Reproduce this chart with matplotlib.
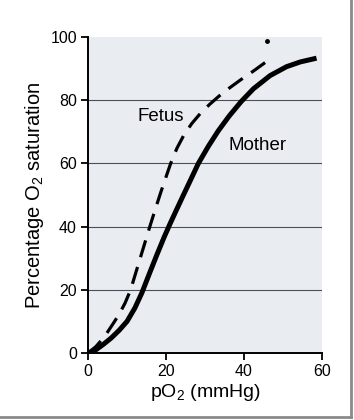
import matplotlib.pyplot as plt
from matplotlib.lines import Line2D

plt.rcParams["font.family"] = ["Liberation Sans", "DejaVu Sans"]
plt.rcParams["mathtext.fontset"] = "custom"
plt.rcParams["mathtext.rm"] = "Liberation Sans"
plt.rcParams["mathtext.it"] = "Liberation Sans:italic"

mother_po2 = [0, 2, 4, 6, 8, 10, 12, 13.8, 15.7, 17.6, 19.5, 21, 22.5, 24.2,
              26.2, 28.3, 30.9, 33.4, 36.2, 39.3, 42.4, 46.7, 50.9, 54.4, 58.6]
mother_sat = [0, 1, 2.8, 4.8, 7.2, 10, 14.2, 19, 25, 30.9, 36.6, 40.8, 44.8, 49.3,
              54.5, 60, 65.5, 70.3, 75, 79.6, 83.6, 87.8, 90.6, 92.1, 93.3]
fetus_po2 = [0, 2, 3.5, 5, 6.5, 8, 9.5, 10.9, 12.4, 14, 15.6, 17.2, 18.7, 20,
             21.2, 22.8, 24.6, 26.6, 28.8, 31.2, 33.6, 36.3, 39.2, 42.5, 45.4]
fetus_sat = [0, 2, 4.1, 6.6, 9.4, 12.3, 15.8, 19.9, 26, 32.5, 39, 45.3, 51, 55.7,
             60, 64.8, 69, 72.6, 75.8, 78.7, 81.3, 83.9, 86.5, 89.3, 91.9]
stray_dot = (45.8, 98.7)
yticks = [0, 20, 40, 60, 80, 100]
xticks = [0, 20, 40, 60]

fig = plt.figure(figsize=(3.54, 4.2), dpi=100)
ax = fig.add_axes([0.2486, 0.1595, 0.661, 0.7524])
ax.set_facecolor("#e9edf1")

for g in [20, 40, 60, 80]:
    ax.axhline(g, color="#4a4f5c", lw=0.8, zorder=1)

ax.plot(mother_po2, mother_sat, color="black", lw=3.6, solid_capstyle="butt",
        solid_joinstyle="round", zorder=3)
ax.plot(fetus_po2, fetus_sat, color="black", lw=2.3, dashes=(5.5, 3.2),
        dash_capstyle="butt", zorder=3)
ax.plot([stray_dot[0]], [stray_dot[1]], "o", color="black", ms=2.5, zorder=3)

ax.text(18.6, 74.8, "Fetus", fontsize=13.5, ha="center", va="center")
ax.text(43.6, 65.8, "Mother", fontsize=13.5, ha="center", va="center")

ax.set_xlim(0, 60)
ax.set_ylim(0, 100)
ax.set_xticks(xticks)
ax.set_yticks(yticks)
ax.tick_params(direction="out", length=5, width=1.3, labelsize=11.5, pad=3)
for side in ["top", "right"]:
    ax.spines[side].set_visible(False)
for side in ["left", "bottom"]:
    ax.spines[side].set_linewidth(1.4)

ax.set_xlabel("pO$_2$ (mmHg)", fontsize=14, labelpad=2)
ax.set_ylabel("Percentage O$_2$ saturation", fontsize=14.5, labelpad=3)

# grey frame along the right and bottom edges of the scan
fig.add_artist(Line2D([0.992, 0.992], [0.008, 1.0], color="#8a8a8a", lw=2))
fig.add_artist(Line2D([0.0, 0.992], [0.008, 0.008], color="#8a8a8a", lw=2))

fig.savefig("out.png", dpi=100)
